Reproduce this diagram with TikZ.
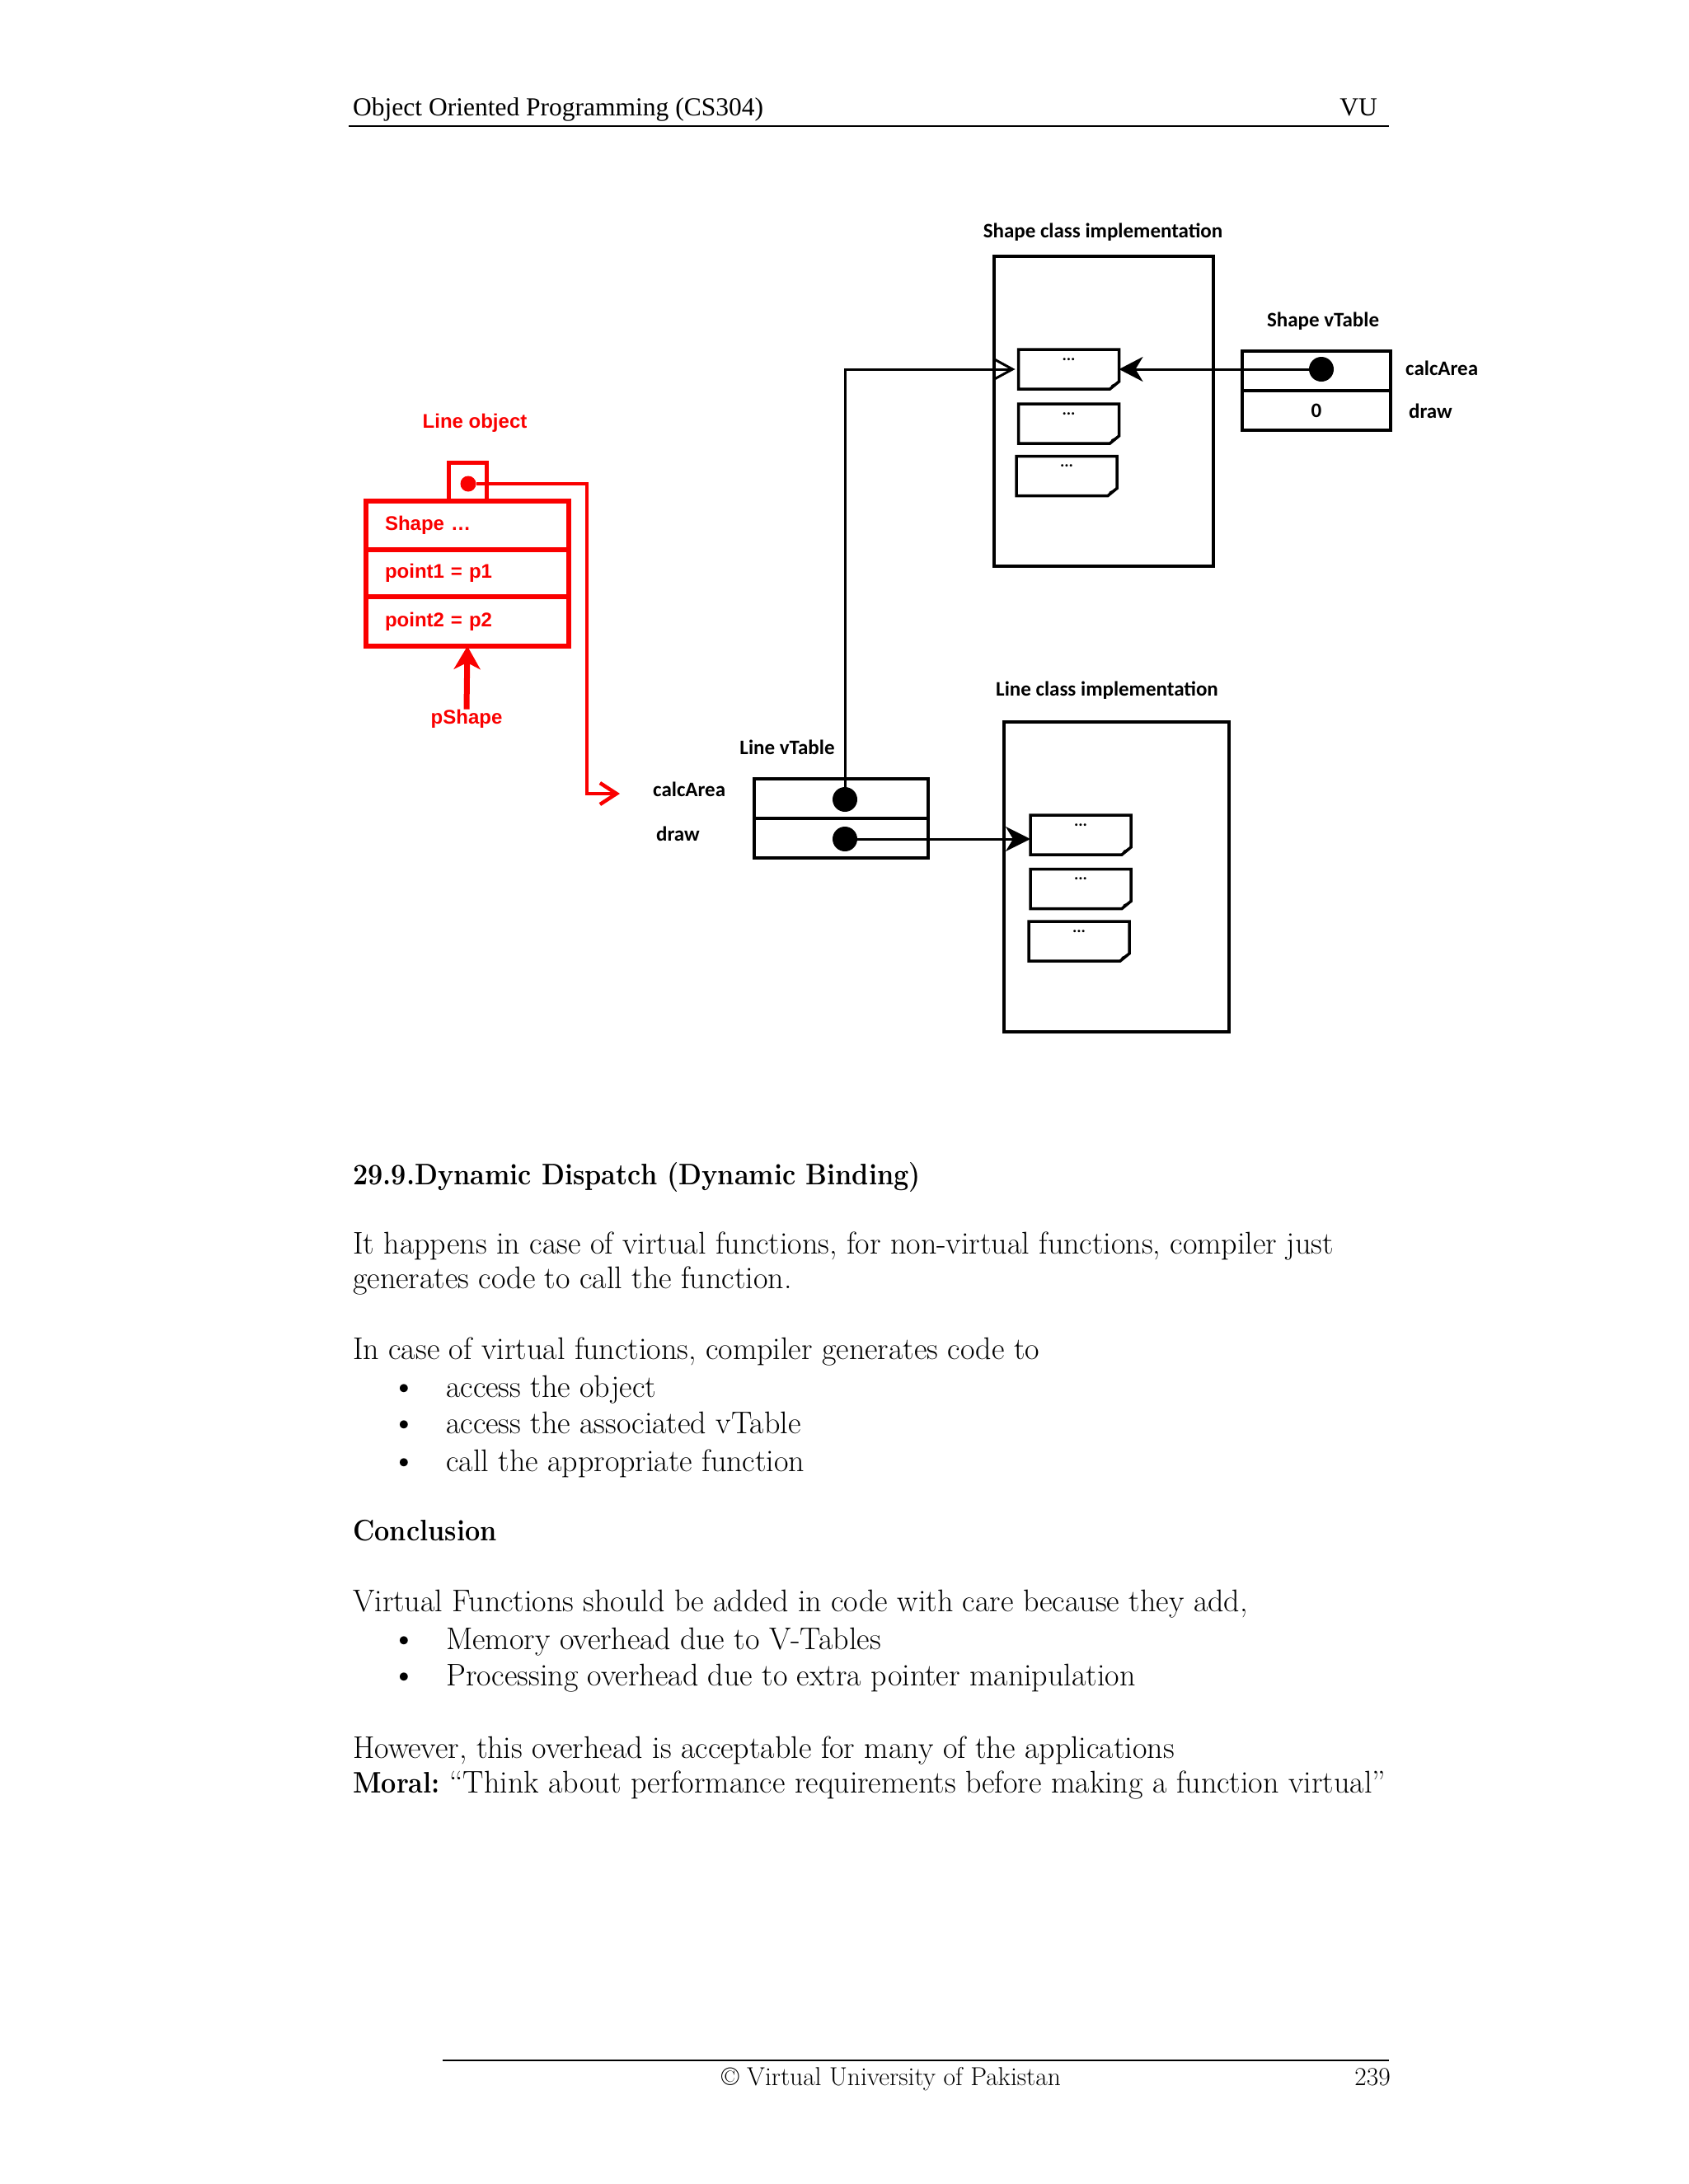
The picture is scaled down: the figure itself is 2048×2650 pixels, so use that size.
\documentclass[tikz,border=0pt]{standalone}
\usepackage{fontspec}
\newfontfamily\calfont{Carlito}
\newfontfamily\arialfont{Liberation Sans}
\newfontfamily\timesfont{Liberation Serif}
\usetikzlibrary{arrows.meta}
\definecolor{myred}{RGB}{250,0,0}
\newcommand{\foldbox}[2]{%
  \node[foldn] (#1) at (#2) {};
  \draw[boxline] (#1.north west) -- (#1.north east) -- ([yshift=9pt]#1.south east) -- ([xshift=-11pt]#1.south east) -- (#1.south west) -- cycle;
  \fill ([yshift=9pt]#1.south east) -- ([xshift=-11pt]#1.south east) -- ([xshift=-9pt,yshift=5pt]#1.south east) -- cycle;
  \node[dotsn] (#1d) at ([yshift=-12pt]#1.north) {...};
}
\newcommand{\narrowbf}[1]{\scalebox{0.9}[1]{\bfseries\fontsize{36}{44}\selectfont #1}}
\begin{document}
\begin{tikzpicture}[x=1pt,y=-1pt,
  lbl/.style={font=\calfont\bfseries\fontsize{25}{28}\selectfont, inner sep=0pt},
  redlbl/.style={text=myred, font=\arialfont\bfseries\fontsize{24}{28}\selectfont, inner sep=0pt},
  boxline/.style={draw=black, line width=3.5pt, line join=miter},
  bigbox/.style={boxline, rectangle, inner sep=0pt, outer sep=0pt, minimum width=#1},
  vrow/.style={boxline, rectangle, inner sep=0pt, outer sep=0pt, minimum width=#1, minimum height=48pt, font=\calfont\bfseries\fontsize{25}{28}\selectfont},
  foldn/.style={rectangle, inner sep=0pt, outer sep=0pt, minimum width=122pt, minimum height=48pt},
  dotsn/.style={font=\calfont\bfseries\fontsize{20}{22}\selectfont, inner sep=0pt},
  ptr/.style={circle, fill=black, inner sep=0pt, minimum size=30pt},
  redrow/.style={draw=myred, line width=6pt, rectangle, inner sep=0pt, outer sep=0pt, minimum width=246pt, text width=200pt, align=left, text=myred, font=\arialfont\bfseries\fontsize{24}{28}\selectfont},
  conn/.style={draw=black, line width=3pt},
  body/.style={anchor=base west, inner sep=0pt, font=\fontsize{38}{46}\selectfont},
  bodyb/.style={anchor=base west, inner sep=0pt, font=\fontsize{36}{44}\selectfont},
  bul/.style={anchor=base, inner sep=0pt, font=\fontsize{44}{46}\selectfont}
]
\useasboundingbox (0,0) rectangle (2048,2650);
\fill[white] (0,0) rectangle (2048,2650);

% header
\node[anchor=base west, inner sep=0pt, font=\timesfont\fontsize{31.5}{36}\selectfont] (hdl) at (428,140) {Object Oriented Programming (CS304)};
\node[anchor=base east, inner sep=0pt, font=\timesfont\fontsize{31.5}{36}\selectfont] (hdr) at (1671,140) {VU};
\coordinate (hr1) at (423,153);
\coordinate (hr2) at (1685,153);
\draw[line width=2.5pt] (hr1) -- (hr2);

% ===== Shape class implementation =====
\node[lbl] (sclbl) at (1338,282) {Shape class implementation};
\node[bigbox=266pt, minimum height=376pt] (scbox) at (1339,499) {};
\foldbox{sb1}{1296.5,448}
\foldbox{sb2}{1296.5,514}
\foldbox{sb3}{1294,577.5}

% Shape vTable
\node[lbl] (svlbl) at (1605,390) {Shape vTable};
\node[vrow=180pt] (sv1) at (1597,450) {};
\node[vrow=180pt] (sv2) at (1597,498) {0};
\node[ptr] (svd) at (1603,448) {};
\node[lbl, anchor=west] (svca) at (1705,447) {calcArea};
\node[lbl, anchor=west] (svdr) at (1709,499) {draw};
\draw[conn, -{Stealth[length=29pt,width=30pt,inset=9pt]}] (svd) -- (svd -| sb1.east);

% ===== Line class implementation =====
\node[lbl] (lclbl) at (1343,838) {Line class implementation};
\node[bigbox=273pt, minimum height=376pt] (lcbox) at (1354.5,1064) {};
\foldbox{lb1}{1311,1013}
\foldbox{lb2}{1311,1078.5}
\foldbox{lb3}{1309,1142}

% Line vTable
\node[lbl] (lvlbl) at (955,907) {Line vTable};
\node[vrow=211pt] (lv1) at (1020.5,969) {};
\node[vrow=211pt] (lv2) at (1020.5,1017) {};
\node[ptr] (lvd1) at (1025,970) {};
\node[ptr] (lvd2) at (1025,1018) {};
\node[lbl, anchor=west] (lvca) at (792,958) {calcArea};
\node[lbl, anchor=west] (lvdr) at (796,1012) {draw};
\draw[conn, -{Straight Barb[length=22pt,width=24pt,line width=3pt]}] (lvd1) |- ([xshift=-4pt]sb1.west);
\draw[conn, -{Stealth[length=30pt,width=30pt,inset=9pt]}] (lvd2) -- (lvd2 -| lb1.west);

% ===== Line object (red) =====
\node[redlbl] (lolbl) at (576,513) {Line object};
\node[draw=myred, line width=5pt, rectangle, inner sep=0pt, outer sep=0pt, minimum width=46pt, minimum height=47pt] (pbox) at (567,584.5) {};
\node[redrow, minimum height=59pt] (r1) at (567,637.5) {Shape \ldots};
\node[redrow, minimum height=57pt] (r2) at (567,695.5) {point1 = p1};
\node[redrow, minimum height=60pt] (r3) at (567,754) {point2 = p2};
\node[circle, fill=myred, inner sep=0pt, minimum size=19pt] (pd) at (568,587) {};
\coordinate (rc1) at (712,587);
\coordinate (rend) at (752,963);
\draw[draw=myred, line width=4.5pt, line join=miter, -{Straight Barb[length=20pt,width=26pt,line width=4.5pt]}] (pd) -- (rc1) |- (rend);
\node[redlbl] (psh) at (566,872) {pShape};
\draw[draw=myred, line width=7pt, -{Stealth[length=28pt,width=32pt,inset=8pt]}] (psh.north) -- (r3.south);

% ===== body text =====
\node[bodyb] (t0) at (428,1437) {\narrowbf{29.9.Dynamic Dispatch (Dynamic Binding)}};
\node[body] (t1) at (428,1521) {It happens in case of virtual functions, for non-virtual functions, compiler just};
\node[body] (t2) at (428,1563) {generates code to call the function.};
\node[body] (t3) at (428,1649) {In case of virtual functions, compiler generates code to};
\node[bul] (b1) at (490,1696) {\textbullet};
\node[body] (t4) at (541,1695) {access the object};
\node[bul] (b2) at (490,1740) {\textbullet};
\node[body] (t5) at (541,1739) {access the associated vTable};
\node[bul] (b3) at (490,1786) {\textbullet};
\node[body] (t6) at (541,1785) {call the appropriate function};
\node[bodyb] (t7) at (428,1869) {\narrowbf{Conclusion}};
\node[body] (t8) at (428,1955) {Virtual Functions should be added in code with care because they add,};
\node[bul] (b4) at (490,2002) {\textbullet};
\node[body] (t9) at (541,2001) {Memory overhead due to V-Tables};
\node[bul] (b5) at (490,2046) {\textbullet};
\node[body] (t10) at (541,2045) {Processing overhead due to extra pointer manipulation};
\node[body] (t11) at (428,2133) {However, this overhead is acceptable for many of the applications};
\node[body] (t12) at (428,2175) {\narrowbf{Moral:} “Think about performance requirements before making a function virtual”};

% footer
\coordinate (fr1) at (537,2500);
\coordinate (fr2) at (1685,2500);
\draw[line width=2pt] (fr1) -- (fr2);
\node[anchor=base, inner sep=0pt, font=\fontsize{31.5}{36}\selectfont] (ft) at (1081,2530) {© Virtual University of Pakistan};
\node[anchor=base east, inner sep=0pt, font=\fontsize{31.5}{36}\selectfont] (pg) at (1687,2530) {239};
\end{tikzpicture}
\end{document}
